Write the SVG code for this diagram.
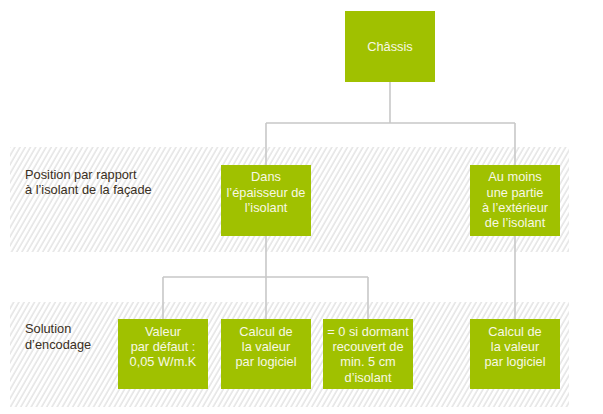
<svg xmlns="http://www.w3.org/2000/svg" width="603" height="414" viewBox="0 0 603 414">
<defs>
<pattern id="hatch" width="4.5" height="10" patternUnits="userSpaceOnUse" patternTransform="rotate(30)">
<rect width="4.5" height="10" fill="#ffffff"/>
<line x1="1" y1="0" x2="1" y2="10" stroke="#e4e4e4" stroke-width="1.5"/>
</pattern>
</defs>
<style>
.band{fill:url(#hatch)}
.box{fill:#a0c100}
.bt{font-family:"Liberation Sans",Arial,sans-serif;font-size:12.8px;fill:#f8f8e4;text-anchor:middle}
.lbl{font-family:"Liberation Sans",Arial,sans-serif;font-size:12.8px;fill:#3a2f22}
.con{stroke:#c8c8c8;stroke-width:1.6;fill:none}
</style>
<rect class="band" x="10" y="147" width="559" height="105"/>
<rect class="band" x="10" y="302" width="559" height="105"/>
<text class="lbl" x="25" y="178.5">Position par rapport</text>
<text class="lbl" x="25" y="194">à l’isolant de la façade</text>
<text class="lbl" x="25" y="333">Solution</text>
<text class="lbl" x="25" y="348.5">d’encodage</text>
<g id="connectors">
<path class="con" d="M390 82V123M266 123H515M266 123V165M515 123V165"/>
<path class="con" d="M266 236V277M163 277H368M163 277V319M266 277V319M368 277V319M515 236V319"/>
</g>
<g id="chassis">
<rect class="box" x="345" y="11" width="90" height="71"/>
<text class="bt" x="390" y="50.5">Châssis</text>
</g>
<g id="dans">
<rect class="box" x="221" y="165" width="90" height="71"/>
<text class="bt" x="266" y="181">Dans</text>
<text class="bt" x="266" y="196.5">l’épaisseur de</text>
<text class="bt" x="266" y="212">l’isolant</text>
</g>
<g id="aumoins">
<rect class="box" x="470" y="165" width="90" height="71"/>
<text class="bt" x="515" y="181">Au moins</text>
<text class="bt" x="515" y="196.5">une partie</text>
<text class="bt" x="515" y="212">à l’extérieur</text>
<text class="bt" x="515" y="227">de l’isolant</text>
</g>
<g id="valeur">
<rect class="box" x="118" y="319" width="90" height="70"/>
<text class="bt" x="163" y="336">Valeur</text>
<text class="bt" x="163" y="351">par défaut :</text>
<text class="bt" x="163" y="366">0,05 W/m.K</text>
</g>
<g id="calcul1">
<rect class="box" x="221" y="319" width="90" height="70"/>
<text class="bt" x="266" y="336">Calcul de</text>
<text class="bt" x="266" y="351">la valeur</text>
<text class="bt" x="266" y="366">par logiciel</text>
</g>
<g id="zero">
<rect class="box" x="323" y="319" width="90" height="70"/>
<text class="bt" x="368" y="335.5">= 0 si dormant</text>
<text class="bt" x="368" y="351">recouvert de</text>
<text class="bt" x="368" y="366">min. 5 cm</text>
<text class="bt" x="368" y="381.5">d’isolant</text>
</g>
<g id="calcul2">
<rect class="box" x="470" y="319" width="90" height="70"/>
<text class="bt" x="515" y="336">Calcul de</text>
<text class="bt" x="515" y="351">la valeur</text>
<text class="bt" x="515" y="366">par logiciel</text>
</g>
</svg>
